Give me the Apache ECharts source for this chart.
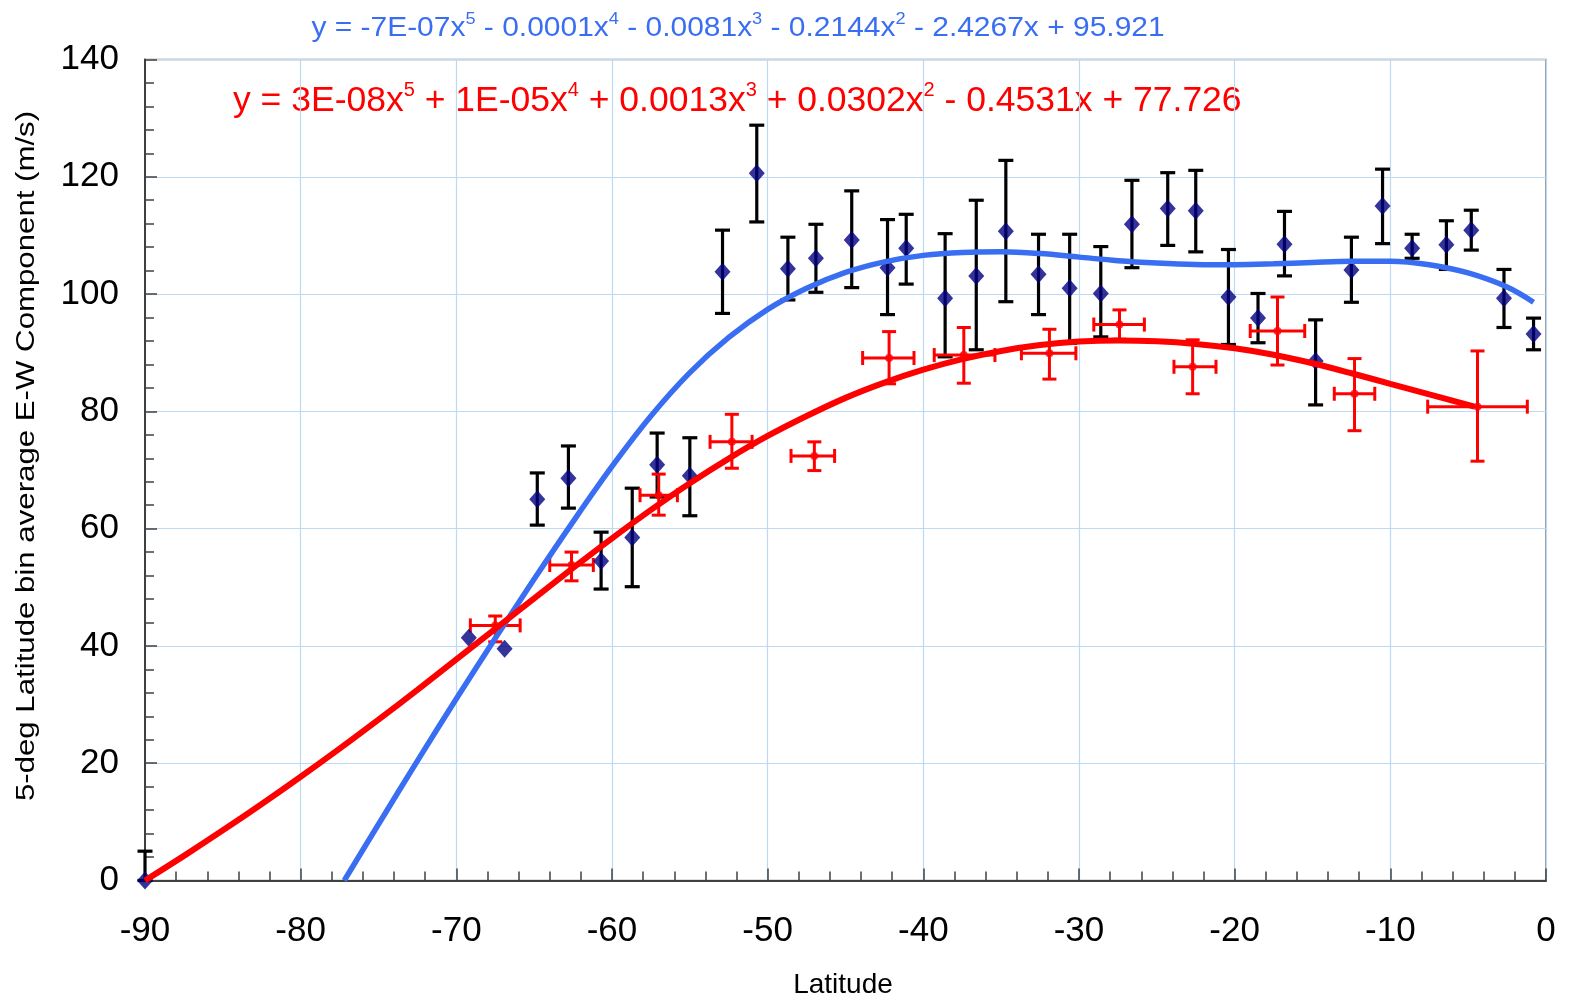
<!DOCTYPE html>
<html>
<head>
<meta charset="utf-8">
<title>5-deg Latitude bin average E-W Component</title>
<script src="https://cdn.jsdelivr.net/npm/echarts@6.0.0/dist/echarts.min.js"></script>
<style>
html, body { margin: 0; padding: 0; background: #fff; }
#chart { width: 1573px; height: 1000px; }
</style>
</head>
<body>
<div id="chart"></div>
<script>
// 黑色误差棒 + 深蓝菱形点
var blackLat  = [-90, -69.2, -66.9, -64.8, -62.8, -60.7, -58.7, -57.1, -55.0, -52.9, -50.7, -48.7, -46.9, -44.6, -42.3, -41.1, -38.6, -36.6, -34.7, -32.6, -30.6, -28.6, -26.6, -24.3, -22.5, -20.4, -18.5, -16.8, -14.8, -12.5, -10.5, -8.6, -6.4, -4.8, -2.7, -0.8];
var blackVal  = [0, 41.4, 39.5, 65.0, 68.6, 54.5, 58.5, 70.9, 69.0, 103.8, 120.6, 104.3, 106.1, 109.2, 104.5, 107.8, 99.3, 103.1, 110.7, 103.4, 101.0, 100.1, 111.9, 114.6, 114.2, 99.5, 95.9, 108.5, 88.6, 104.1, 115.0, 107.8, 108.4, 110.9, 99.3, 93.2];
var blackHigh = [5.0, 41.4, 39.5, 69.5, 74.1, 59.4, 66.9, 76.3, 75.5, 110.9, 128.8, 109.7, 111.9, 117.6, 112.7, 113.6, 110.3, 116.0, 122.8, 110.2, 110.2, 108.1, 119.4, 120.7, 121.1, 107.6, 100.1, 114.1, 95.6, 109.7, 121.3, 110.2, 112.5, 114.3, 104.2, 95.9];
var blackLow  = [0, 41.4, 39.5, 60.6, 63.5, 49.7, 50.1, 65.4, 62.2, 96.7, 112.3, 99.0, 100.3, 101.1, 96.5, 101.7, 89.3, 90.5, 98.7, 96.5, 91.6, 92.7, 104.5, 108.3, 107.2, 91.4, 91.7, 103.1, 81.1, 98.6, 108.6, 106.1, 104.2, 107.5, 94.3, 90.5];

// 红色十字误差点
var redLat     = [-67.5, -62.6, -57.0, -52.3, -47.0, -42.2, -37.4, -31.9, -27.4, -22.7, -17.25, -12.3, -4.4];
var redVal     = [43.5, 53.8, 65.7, 74.8, 72.4, 89.1, 89.6, 89.9, 94.8, 87.6, 93.7, 83.0, 80.8];
var redLatLow  = [-69.1, -64.0, -58.2, -53.7, -48.5, -43.9, -39.3, -33.7, -29.05, -23.9, -19.0, -13.6, -7.6];
var redLatHigh = [-65.9, -61.2, -55.8, -51.0, -45.7, -40.6, -35.4, -30.2, -25.8, -21.2, -15.5, -11.0, -1.2];
var redLow     = [40.7, 51.1, 62.3, 70.3, 69.9, 84.7, 84.8, 85.5, 92.3, 83.0, 87.9, 76.7, 71.5];
var redHigh    = [45.1, 56.0, 69.3, 79.5, 74.8, 93.6, 94.3, 94.0, 97.3, 92.2, 99.5, 89.0, 90.3];

// 趋势线 (读图取点)
var blueFitLat = [-77.2, -75, -72.5, -70, -67.5, -65, -62.5, -60, -57.5, -55, -52.5, -50, -47.5, -45, -42.5, -40, -37.5, -35, -32.5, -30, -27.5, -25, -22.5, -20, -17.5, -15, -12.5, -10, -7.5, -5, -2.5, -0.8];
var blueFitVal = [0, 9.6, 20.4, 31.0, 41.3, 51.4, 61.2, 70.6, 79.2, 86.6, 92.6, 97.4, 101.0, 103.7, 105.5, 106.6, 107.1, 107.2, 106.9, 106.3, 105.7, 105.3, 105.05, 105.0, 105.15, 105.4, 105.6, 105.6, 105.0, 103.6, 101.2, 98.6];
var redFitLat  = [-90, -87.5, -85, -82.5, -80, -77.5, -75, -72.5, -70, -67.5, -65, -62.5, -60, -57.5, -55, -52.5, -50, -47.5, -45, -42.5, -40, -37.5, -35, -32.5, -30, -27.5, -25, -22.5, -20, -17.5, -15, -12.5, -10, -7.5, -5, -4.6];
var redFitVal  = [0, 4.2, 8.55, 13.05, 17.7, 22.5, 27.45, 32.5, 37.7, 42.9, 48.1, 53.3, 58.35, 63.2, 67.75, 71.95, 75.8, 79.2, 82.3, 84.9, 87.1, 88.9, 90.3, 91.3, 91.9, 92.1, 91.95, 91.5, 90.75, 89.65, 88.2, 86.5, 84.7, 82.9, 81.1, 80.8];

var xTicks = [-90, -80, -70, -60, -50, -40, -30, -20, -10, 0];
var yTicks = [0, 20, 40, 60, 80, 100, 120, 140];

var blueEq = '{m|y = -7E-07x}{s|5}{m| - 0.0001x}{s|4}{m| - 0.0081x}{s|3}{m| - 0.2144x}{s|2}{m| - 2.4267x + 95.921}';
var redEq  = '{m|y = 3E-08x}{s|5}{m| + 1E-05x}{s|4}{m| + 0.0013x}{s|3}{m| + 0.0302x}{s|2}{m| - 0.4531x + 77.726}';

var FONT = 'Arial, "Liberation Sans", sans-serif';
var BLUE = '#3a6ef2';
var RED = '#ff0000';

var chart = echarts.init(document.getElementById('chart'));

var blackData = blackLat.map(function (x, i) { return [x, blackVal[i], blackLow[i], blackHigh[i]]; });
var redData = redLat.map(function (x, i) { return [x, redVal[i], redLatLow[i], redLatHigh[i], redLow[i], redHigh[i]]; });

function seg(x1, y1, x2, y2, color, w) {
    return { type: 'line', shape: { x1: x1, y1: y1, x2: x2, y2: y2 }, style: { stroke: color, lineWidth: w } };
}

// 竖向误差棒
function renderBlackBar(params, api) {
    var x = api.value(0), lo = api.value(2), hi = api.value(3);
    if (hi === lo) return null;
    var a = api.coord([x, hi]), b = api.coord([x, lo]);
    var c = 7.5;
    return { type: 'group', children: [
        seg(a[0], a[1], b[0], b[1], '#000', 3.2),
        seg(a[0] - c, a[1], a[0] + c, a[1], '#000', 3.2),
        seg(b[0] - c, b[1], b[0] + c, b[1], '#000', 3.2)
    ] };
}

// 十字误差棒
function renderRedCross(params, api) {
    var x = api.value(0), y = api.value(1);
    var l = api.coord([api.value(2), y]), r = api.coord([api.value(3), y]);
    var t = api.coord([x, api.value(5)]), b = api.coord([x, api.value(4)]);
    var c = 7;
    var w = 3;
    return { type: 'group', children: [
        seg(l[0], l[1], r[0], r[1], RED, w),
        seg(l[0], l[1] - c, l[0], l[1] + c, RED, w),
        seg(r[0], r[1] - c, r[0], r[1] + c, RED, w),
        seg(t[0], t[1], b[0], b[1], RED, w),
        seg(t[0] - c, t[1], t[0] + c, t[1], RED, w),
        seg(b[0] - c, b[1], b[0] + c, b[1], RED, w)
    ] };
}

var option = {
    animation: false,
    backgroundColor: '#fff',
    grid: {
        left: 145, right: 27, top: 59.5, bottom: 119.5,
        show: true, borderColor: '#808080', borderWidth: 1.5, backgroundColor: 'transparent'
    },
    xAxis: {
        type: 'value', min: -90, max: 0, interval: 10,
        axisLine: { show: true, onZero: false, lineStyle: { color: '#404040', width: 2 } },
        axisTick: { show: true, inside: true, length: 12, lineStyle: { color: '#404040', width: 1.5 } },
        minorTick: { show: true, splitNumber: 5, length: 9, lineStyle: { color: '#404040', width: 1.5 } },
        splitLine: { show: true, lineStyle: { color: '#bcdaf2', width: 1.2 } },
        axisLabel: {
            color: '#000', fontSize: 35, fontFamily: FONT, margin: 33,
            showMinLabel: true, showMaxLabel: true, hideOverlap: false,
            formatter: function (v) { return xTicks.indexOf(v) >= 0 ? String(v) : ''; }
        }
    },
    yAxis: {
        type: 'value', min: 0, max: 140, interval: 20,
        axisLine: { show: true, onZero: false, lineStyle: { color: '#404040', width: 2 } },
        axisTick: { show: true, inside: true, length: 12, lineStyle: { color: '#404040', width: 1.5 } },
        minorTick: { show: true, splitNumber: 5, length: 9, lineStyle: { color: '#404040', width: 1.5 } },
        splitLine: { show: true, lineStyle: { color: '#bcdaf2', width: 1.2 } },
        axisLabel: {
            color: '#000', fontSize: 35, fontFamily: FONT, margin: 26,
            showMinLabel: true, showMaxLabel: true, hideOverlap: false,
            formatter: function (v) { return yTicks.indexOf(v) >= 0 ? String(v) : ''; }
        }
    },
    graphic: [
        {
            type: 'text', x: 738, y: 28, scaleX: 1.07, silent: true,
            style: {
                text: blueEq, align: 'center', verticalAlign: 'middle',
                rich: {
                    m: { fontSize: 28, fontFamily: FONT, fill: BLUE, lineHeight: 34 },
                    s: { fontSize: 17, fontFamily: FONT, fill: BLUE, verticalAlign: 'top', lineHeight: 34 }
                }
            }
        },
        {
            type: 'text', x: 233, y: 101, silent: true,
            style: {
                text: redEq, align: 'left', verticalAlign: 'middle',
                rich: {
                    m: { fontSize: 35.5, fontFamily: FONT, fill: RED, lineHeight: 42 },
                    s: { fontSize: 20, fontFamily: FONT, fill: RED, verticalAlign: 'top', lineHeight: 42 }
                }
            }
        },
        {
            type: 'text', x: 27, y: 456, rotation: Math.PI / 2, scaleX: 1.2, silent: true,
            style: {
                text: '5-deg Latitude bin average E-W Component (m/s)',
                font: '26px ' + FONT, fill: '#000', align: 'center', verticalAlign: 'middle'
            }
        },
        {
            type: 'text', x: 843, y: 985, silent: true,
            style: {
                text: 'Latitude', font: '28px ' + FONT, fill: '#000', align: 'center', verticalAlign: 'middle'
            }
        }
    ],
    series: [
        {
            name: 'error-black', type: 'custom', renderItem: renderBlackBar,
            data: blackData, encode: { x: 0, y: [1, 2, 3] }, z: 2, clip: false
        },
        {
            name: 'EW', type: 'scatter', symbol: 'diamond', symbolSize: [16, 18],
            itemStyle: { color: '#000080' }, data: blackData.map(function (d) { return [d[0], d[1]]; }), z: 3
        },
        {
            name: 'error-red', type: 'custom', renderItem: renderRedCross,
            data: redData, encode: { x: [0, 2, 3], y: [1, 4, 5] }, z: 3, clip: false
        },
        {
            name: 'red-points', type: 'scatter', symbol: 'circle', symbolSize: 8,
            itemStyle: { color: RED }, data: redData.map(function (d) { return [d[0], d[1]]; }), z: 4
        },
        {
            name: 'blue-fit', type: 'line', smooth: 0.35, showSymbol: false, z: 5,
            lineStyle: { color: BLUE, width: 5.5 },
            data: blueFitLat.map(function (x, i) { return [x, blueFitVal[i]]; })
        },
        {
            name: 'red-fit', type: 'line', smooth: 0.35, showSymbol: false, z: 6,
            lineStyle: { color: RED, width: 6 },
            data: redFitLat.map(function (x, i) { return [x, redFitVal[i]]; })
        }
    ]
};

chart.setOption(option);
</script>
</body>
</html>
